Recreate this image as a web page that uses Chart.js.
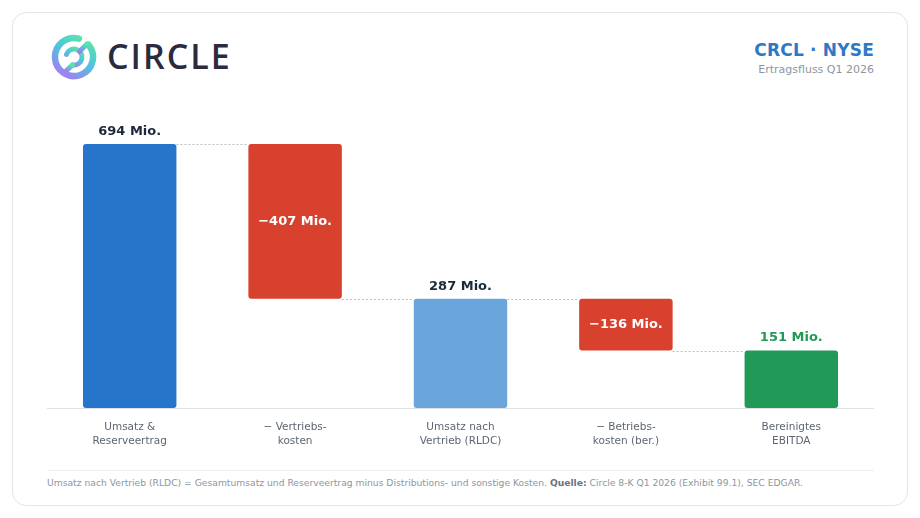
<!DOCTYPE html>
<html><head><meta charset="utf-8">
<script src="https://cdn.jsdelivr.net/npm/chart.js@4.4.1/dist/chart.umd.min.js"></script>
<style>
html,body{margin:0;padding:0;background:#fff;width:920px;height:518px;overflow:hidden;font-family:"DejaVu Sans",sans-serif;}
#card{position:absolute;left:12px;top:12px;width:894px;height:492px;border:1px solid #e2e5e9;border-radius:14px;background:#fff;}
#logo{position:absolute;left:50px;top:33px;}
#brand{position:absolute;left:107px;top:34px;font-family:"Open Sans",sans-serif;font-weight:600;font-size:34px;letter-spacing:2px;color:#2b2a3f;line-height:44px;}
#t1{position:absolute;right:46px;top:40px;font-weight:bold;font-size:17px;color:#2f78c8;letter-spacing:0.2px;}
#t2{position:absolute;right:46px;top:63px;font-size:11px;color:#8d96a1;}
#wrap{position:absolute;left:47px;top:96px;width:827px;height:354px;}
#sep{position:absolute;left:47px;top:470px;width:827px;height:1px;background:#eef0f3;}
#foot{position:absolute;left:47px;top:477px;font-size:9.2px;color:#8d96a1;white-space:nowrap;}
#foot b{color:#6b7480;}
</style></head><body>
<div id="card"></div>
<svg id="logo" width="48" height="48" viewBox="0 0 48 48">
<defs><linearGradient id="g" x1="0.8" y1="0" x2="0.2" y2="1">
<stop offset="0" stop-color="#5ee3a8"/><stop offset="0.45" stop-color="#4cc6de"/><stop offset="1" stop-color="#a27ef2"/></linearGradient></defs>
<path d="M38.55 11.79 A19 19 0 1 1 28.9 5.65" fill="none" stroke="url(#g)" stroke-width="6.5" stroke-linecap="round"/>
<path d="M16.5 21.3 A8 8 0 1 1 22.6 31.9" fill="none" stroke="url(#g)" stroke-width="5" stroke-linecap="round"/>
<path d="M29.5 18.5 L37 11" fill="none" stroke="url(#g)" stroke-width="5" stroke-linecap="round"/>
<path d="M22.6 31.9 L16 38" fill="none" stroke="url(#g)" stroke-width="5" stroke-linecap="round"/>
</svg>
<div id="brand">CIRCLE</div>
<div id="t1">CRCL · NYSE</div>
<div id="t2">Ertragsfluss Q1 2026</div>
<div id="wrap"><canvas id="c"></canvas></div>
<div id="sep"></div>
<div id="foot">Umsatz nach Vertrieb (RLDC) = Gesamtumsatz und Reserveertrag minus Distributions- und sonstige Kosten. <b>Quelle:</b> Circle 8-K Q1 2026 (Exhibit 99.1), SEC EDGAR.</div>
<script>
const categories = [["Umsatz &","Reserveertrag"],["− Vertriebs-","kosten"],["Umsatz nach","Vertrieb (RLDC)"],["− Betriebs-","kosten (ber.)"],["Bereinigtes","EBITDA"]];
const barStarts = [0, 287, 0, 151, 0];
const barEnds   = [694, 694, 287, 287, 151];
const valueLabels = ["694 Mio.","−407 Mio.","287 Mio.","−136 Mio.","151 Mio."];
const barKinds = ["total","neg","total","neg","result"];
const barColors = ["#2774cb","#d9412f","#6aa6dc","#d9412f","#219a57"];

const data = barStarts.map((s,i)=>[s, barEnds[i]]);

const waterfallPlugin = {
  id:'wf',
  afterDatasetsDraw(chart){
    const ctx = chart.ctx;
    const meta = chart.getDatasetMeta(0);
    const y = chart.scales.y;
    ctx.save();
    ctx.strokeStyle = '#b9bfc7';
    ctx.lineWidth = 1;
    ctx.setLineDash([2,2]);
    for(let i=0;i<meta.data.length-1;i++){
      const a = meta.data[i], b = meta.data[i+1];
      const level = barKinds[i]==='neg' ? barStarts[i] : barEnds[i];
      const yy = Math.round(y.getPixelForValue(level))+0.5;
      ctx.beginPath();
      ctx.moveTo(a.x + a.width/2, yy);
      ctx.lineTo(b.x - b.width/2, yy);
      ctx.stroke();
    }
    ctx.setLineDash([]);
    ctx.font = 'bold 13px "DejaVu Sans", sans-serif';
    ctx.textAlign = 'center';
    meta.data.forEach((el,i)=>{
      if(barKinds[i]==='neg'){
        ctx.fillStyle = '#ffffff';
        ctx.textBaseline = 'middle';
        const yc = (y.getPixelForValue(barStarts[i]) + y.getPixelForValue(barEnds[i]))/2;
        ctx.fillText(valueLabels[i], el.x, yc);
      } else {
        ctx.fillStyle = barKinds[i]==='result' ? '#219a57' : '#1b2a3b';
        ctx.textBaseline = 'bottom';
        ctx.fillText(valueLabels[i], el.x, y.getPixelForValue(barEnds[i]) - 6);
      }
    });
    ctx.restore();
  }
};

new Chart(document.getElementById('c'), {
  type:'bar',
  data:{ labels: categories, datasets:[{ data: data, backgroundColor: barColors, borderRadius: 3, borderSkipped:false, barPercentage:0.565, categoryPercentage:1 }]},
  options:{
    responsive:true, maintainAspectRatio:false, animation:false,
    layout:{padding:0},
    plugins:{legend:{display:false}, tooltip:{enabled:false}},
    scales:{
      x:{ grid:{display:false, drawTicks:false}, border:{display:true,color:'#dfe3e8',width:1},
          ticks:{padding:12, color:'#5d6672', font:{family:'"DejaVu Sans", sans-serif', size:10.5, lineHeight:1.33}},
          afterFit(s){ s.height = 42; } },
      y:{ display:false, min:0, max:820 }
    }
  },
  plugins:[waterfallPlugin]
});
</script>
</body></html>
